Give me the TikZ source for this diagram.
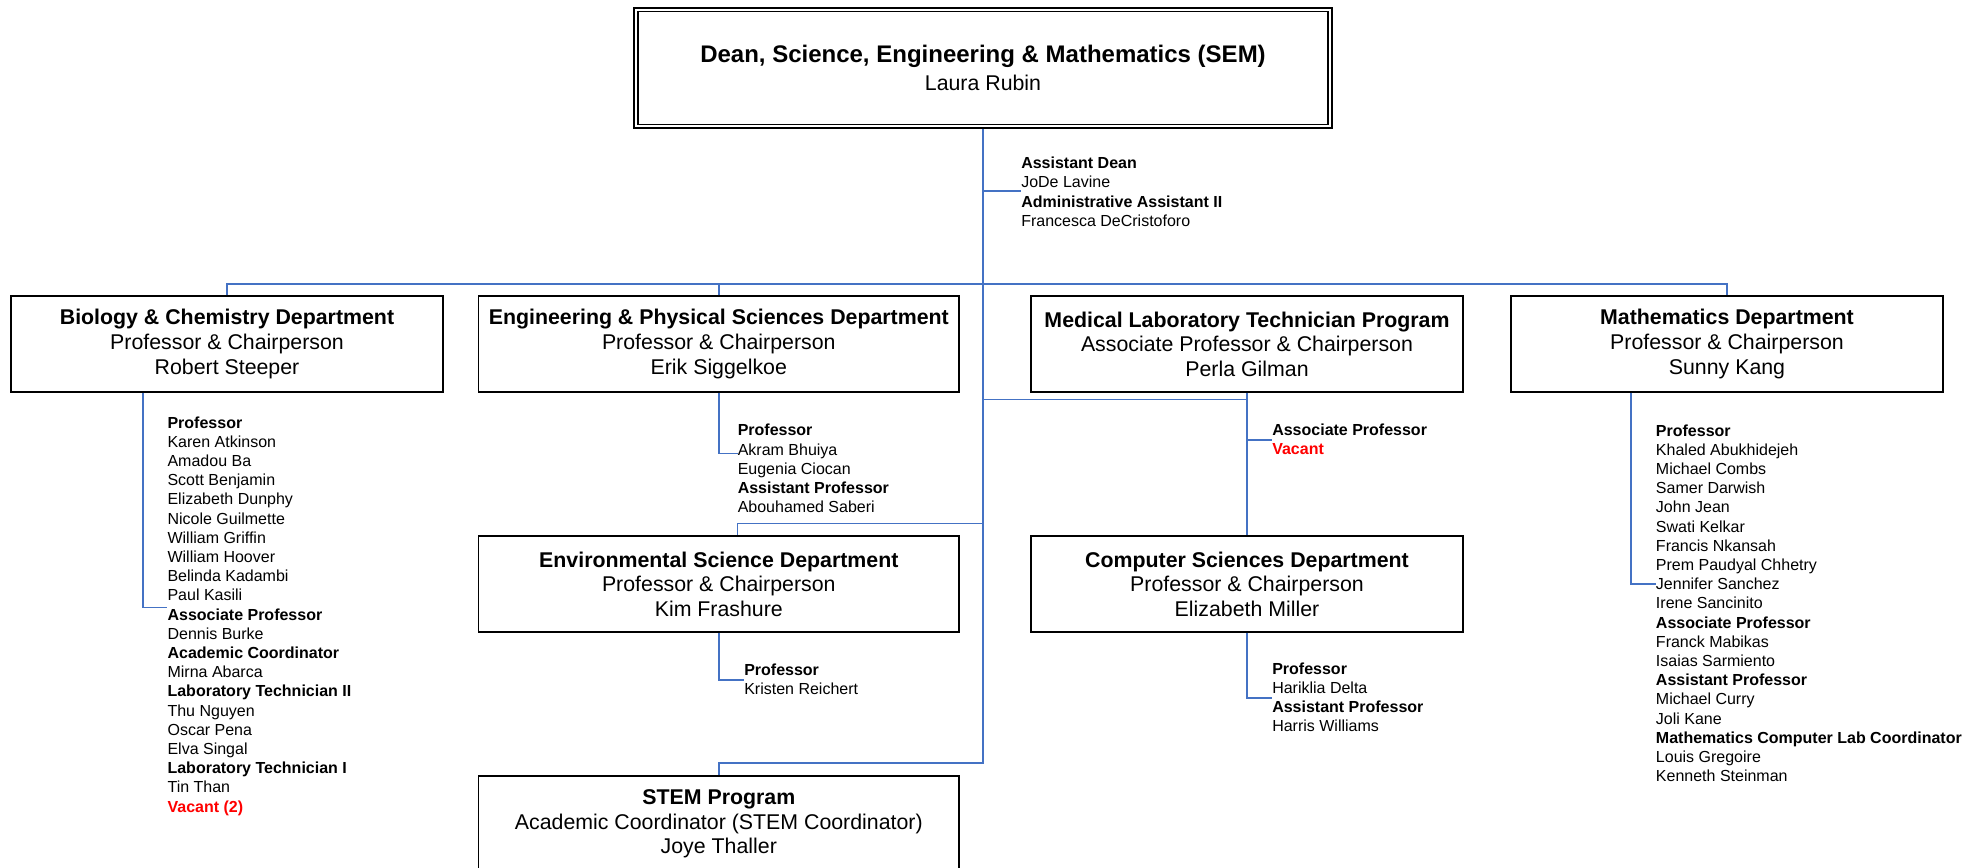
\documentclass[tikz,border=0pt]{standalone}
\usepackage{fontspec}
\setmainfont{Liberation Sans}
\definecolor{orgblue}{RGB}{68,114,196}
\definecolor{vacred}{RGB}{255,0,0}
\tikzset{
  wh/.style 2 args={minimum width=#1*0.75pt, minimum height=#2*0.75pt},
  unitbox/.style={draw=black, line width=1.1pt, inner sep=0pt, align=center, font=\fontsize{16}{18.4}\selectfont},
  staff/.style={anchor=north west, inner sep=0pt, align=left, font=\fontsize{12}{14.4}\selectfont},
  link/.style={draw=orgblue, line width=1.25pt},
}
\newcommand\hd[1]{\textbf{#1}}
\newcommand\vac[1]{\textcolor{vacred}{\textbf{#1}}}
\begin{document}
\begin{tikzpicture}[x=0.75pt, y=-0.75pt]
\useasboundingbox (0,0) rectangle (1979,867);
\clip (0,0) rectangle (1979,867);

% ---------- boxes ----------
\node[unitbox, line width=1.5pt, wh={698}{120.6}, font=\fontsize{16}{21.3}\selectfont] (dean) at (983,68)
  {{\fontsize{18}{21.3}\selectfont\bfseries Dean, Science, Engineering \& Mathematics (SEM)}\\Laura Rubin};
\draw[line width=1.1pt] ([shift={(4.8,4.6)}]dean.north west) rectangle ([shift={(-4.8,-4.6)}]dean.south east);

\node[unitbox, wh={432}{96}] (bio) at (227,344)
  {\hd{Biology \& Chemistry Department}\\Professor \& Chairperson\\Robert Steeper};
\node[unitbox, wh={480.4}{96}] (eng) at (718.8,344)
  {\hd{Engineering \& Physical Sciences Department}\\Professor \& Chairperson\\Erik Siggelkoe};
\node[unitbox, wh={432}{96}] (med) at (1247,344)
  {\hd{Medical Laboratory Technician Program}\\Associate Professor \& Chairperson\\Perla Gilman};
\node[unitbox, wh={432}{96}] (math) at (1727,344)
  {\hd{Mathematics Department}\\Professor \& Chairperson\\Sunny Kang};
\node[unitbox, wh={480.4}{96}] (env) at (718.8,584)
  {\hd{Environmental Science Department}\\Professor \& Chairperson\\Kim Frashure};
\node[unitbox, wh={432}{96}] (cs) at (1247,584)
  {\hd{Computer Sciences Department}\\Professor \& Chairperson\\Elizabeth Miller};
\node[unitbox, wh={480.4}{96}] (stem) at (718.8,824)
  {\hd{STEM Program}\\Academic Coordinator (STEM Coordinator)\\Joye Thaller};

% ---------- staff lists ----------
\node[staff] (deanstaff) at (1021,155)
  {\strut\hd{Assistant Dean}\\JoDe Lavine\\\hd{Administrative Assistant II}\\Francesca DeCristoforo};
\node[staff] (biostaff) at (167.3,414.3)
  {\strut\hd{Professor}\\Karen Atkinson\\Amadou Ba\\Scott Benjamin\\Elizabeth Dunphy\\Nicole Guilmette\\William Griffin\\William Hoover\\Belinda Kadambi\\Paul Kasili\\\hd{Associate Professor}\\Dennis Burke\\\hd{Academic Coordinator}\\Mirna Abarca\\\hd{Laboratory Technician II}\\Thu Nguyen\\Oscar Pena\\Elva Singal\\\hd{Laboratory Technician I}\\Tin Than\\\vac{Vacant (2)}};
\node[staff] (engstaff) at (737.5,422.1)
  {\strut\hd{Professor}\\Akram Bhuiya\\Eugenia Ciocan\\\hd{Assistant Professor}\\Abouhamed Saberi};
\node[staff] (envstaff) at (744,661.8)
  {\strut\hd{Professor}\\Kristen Reichert};
\node[staff] (medstaff) at (1272,421.6)
  {\strut\hd{Associate Professor}\\\vac{Vacant}};
\node[staff] (csstaff) at (1272,660.6)
  {\strut\hd{Professor}\\Hariklia Delta\\\hd{Assistant Professor}\\Harris Williams};
\node[staff] (mathstaff) at (1655.7,422.3)
  {\strut\hd{Professor}\\Khaled Abukhidejeh\\Michael Combs\\Samer Darwish\\John Jean\\Swati Kelkar\\Francis Nkansah\\Prem Paudyal Chhetry\\Jennifer Sanchez\\Irene Sancinito\\\hd{Associate Professor}\\Franck Mabikas\\Isaias Sarmiento\\\hd{Assistant Professor}\\Michael Curry\\Joli Kane\\\hd{Mathematics Computer Lab Coordinator}\\Louis Gregoire\\Kenneth Steinman};

% ---------- junction coordinates ----------
\coordinate (bus) at (983,284);
\coordinate (tM) at (983,399.5);
\coordinate (tE) at (983,523.5);
\coordinate (tS) at (983,763);
\coordinate (kDean) at (983,191);
\coordinate (kBio) at (142.7,607.5);
\coordinate (kEng) at (0,453.4);
\coordinate (kEnv) at (0,680);
\coordinate (kMed) at (0,440);
\coordinate (kCS) at (0,697.7);
\coordinate (kMath) at (1630.7,583.7);

% ---------- connectors ----------
\draw[link] (dean.south) -- (tS) -| (stem.north);
\draw[link] (bio.north) |- (bus) -| (math.north);
\draw[link] (eng.north) -- (eng.north |- bus);
\draw[link] (med.south) -- (cs.north);
\draw[link] (tM) -- (tM -| med.south);
\draw[link] (tE) -| (env.north -| engstaff.west);
\draw[link] (kDean) -- (kDean -| deanstaff.west);
\draw[link] (kBio |- bio.south) -- (kBio) -- (kBio -| biostaff.west);
\draw[link] (eng.south) |- (kEng -| engstaff.west);
\draw[link] (env.south) |- (kEnv -| envstaff.west);
\draw[link] (med.south |- kMed) -- (kMed -| medstaff.west);
\draw[link] (cs.south) |- (kCS -| csstaff.west);
\draw[link] (kMath |- math.south) -- (kMath) -- (kMath -| mathstaff.west);
\end{tikzpicture}
\end{document}
